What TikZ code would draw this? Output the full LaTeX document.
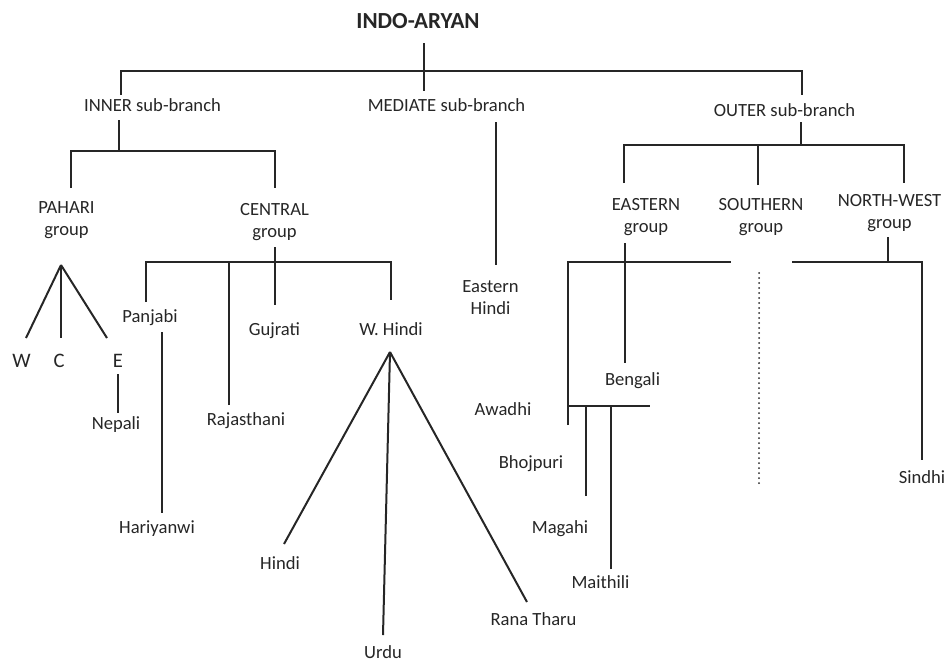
\documentclass[tikz,border=0pt]{standalone}
\usepackage{fontspec}
\setmainfont{Carlito}
\usepackage{tikz}

\begin{document}
\begin{tikzpicture}[
	x=0.5pt, y=-0.5pt,
	langnode/.style={font=\fontsize{9.3}{11}\selectfont, text=black!85, inner sep=0pt, anchor=base},
	groupnode/.style={langnode, align=center, anchor=center},
	letternode/.style={langnode, font=\fontsize{10.3}{12}\selectfont},
	branch/.style={draw=black!85, line width=1pt},
	]
	\useasboundingbox (0,0) rectangle (947,660);
	%Nodes
	\node[langnode, font=\fontsize{11.5}{13}\selectfont\bfseries] (root) at (418,28) {INDO-ARYAN};
	\node[langnode]   (inner)      at (152.5,111) {INNER sub-branch};
	\node[langnode]   (mediate)    at (446.5,111) {MEDIATE sub-branch};
	\node[langnode]   (outer)      at (784.5,116) {OUTER sub-branch};
	\node[groupnode]  (pahari)     at (66.5,220)  {PAHARI\\group};
	\node[groupnode]  (central)    at (274.5,222) {CENTRAL\\group};
	\node[groupnode]  (eastern)    at (646,217)   {EASTERN\\group};
	\node[groupnode]  (southern)   at (761,217)   {SOUTHERN\\group};
	\node[groupnode]  (northwest)  at (889.5,213) {NORTH-WEST\\group};
	\node[groupnode]  (easthindi)  at (490.5,298) {Eastern\\Hindi};
	\node[letternode] (w)          at (21.5,367)  {W};
	\node[letternode] (c)          at (59,367)    {C};
	\node[letternode] (e)          at (118,367)   {E};
	\node[langnode]   (nepali)     at (116,429)   {Nepali};
	\node[langnode]   (panjabi)    at (150,322)   {Panjabi};
	\node[langnode]   (gujrati)    at (274.5,335) {Gujrati};
	\node[langnode]   (whindi)     at (391,335)   {W. Hindi};
	\node[langnode]   (rajasthani) at (246,425)   {Rajasthani};
	\node[langnode]   (hariyanwi)  at (157,533)   {Hariyanwi};
	\node[langnode]   (hindi)      at (280,569)   {Hindi};
	\node[langnode]   (urdu)       at (383,658)   {Urdu};
	\node[langnode]   (ranatharu)  at (533.5,625) {Rana Tharu};
	\node[langnode]   (bengali)    at (632.5,385) {Bengali};
	\node[langnode]   (awadhi)     at (503,415)   {Awadhi};
	\node[langnode]   (bhojpuri)   at (531,468)   {Bhojpuri};
	\node[langnode]   (magahi)     at (560,533)   {Magahi};
	\node[langnode]   (maithili)   at (600.5,588) {Maithili};
	\node[langnode]   (sindhi)     at (922,483)   {Sindhi};
	
	%Line ends
	\coordinate (root-s)      at (424,43);
	\coordinate (root-j)      at (424,71);
	\coordinate (mediate-n)   at (424,91);
	\coordinate (inner-n)     at (121,95);
	\coordinate (outer-n)     at (802,95);
	\coordinate (inner-s)     at (119,120);
	\coordinate (inner-j)     at (119,151);
	\coordinate (pahari-n)    at (71,188);
	\coordinate (central-n)   at (275,188);
	\coordinate (pahari-s)    at (61,265);
	\coordinate (w-n)         at (26,338);
	\coordinate (c-n)         at (61,338);
	\coordinate (e-n)         at (107,338);
	\coordinate (e-s)         at (118,374);
	\coordinate (nepali-n)    at (118,413);
	\coordinate (central-s)   at (275,247);
	\coordinate (central-j)   at (275,262);
	\coordinate (gujrati-n)   at (275,305);
	\coordinate (panjabi-n)   at (146,302);
	\coordinate (rajasthani-n) at (229,405);
	\coordinate (whindi-n)    at (391,300);
	\coordinate (panjabi-s)   at (162,332);
	\coordinate (hariyanwi-n) at (162,513);
	\coordinate (whindi-s)    at (390,352);
	\coordinate (hindi-n)     at (284,544);
	\coordinate (urdu-n)      at (383,635);
	\coordinate (ranatharu-n) at (527,602);
	\coordinate (mediate-s)   at (496,122);
	\coordinate (easthindi-n) at (496,265);
	\coordinate (outer-s)     at (801,122);
	\coordinate (outer-j)     at (801,145);
	\coordinate (eastern-n)   at (624,183);
	\coordinate (southern-n)  at (758,185);
	\coordinate (northwest-n) at (904,183);
	\coordinate (eastern-s)   at (625,243);
	\coordinate (bengali-n)   at (625,363);
	\coordinate (awadhi-n)    at (568,425);
	\coordinate (eastern-e)   at (731,262);
	\coordinate (bihari-j)    at (568,406);
	\coordinate (bihari-e)    at (650,406);
	\coordinate (magahi-n)    at (586,496);
	\coordinate (maithili-n)  at (611,569);
	\coordinate (southern-s)  at (759,273);
	\coordinate (dots-s)      at (759,485);
	\coordinate (northwest-s) at (888,237);
	\coordinate (northwest-j) at (888,262);
	\coordinate (sindhi-w)    at (792,262);
	\coordinate (sindhi-n)    at (922,460);
	
	%Lines
	\draw[branch] (root-s) -- (mediate-n);
	\draw[branch] (inner-n) |- (root-j) -| (outer-n);
	\draw[branch] (inner-s) -- (inner-j);
	\draw[branch] (pahari-n) |- (inner-j) -| (central-n);
	\foreach \leaf in {w-n, c-n, e-n}
		\draw[branch] (pahari-s) -- (\leaf);
	\draw[branch] (e-s) -- (nepali-n);
	\draw[branch] (central-s) -- (gujrati-n);
	\draw[branch] (panjabi-n) |- (central-j) -| (whindi-n);
	\draw[branch] (rajasthani-n) -- (rajasthani-n |- central-j);
	\draw[branch] (panjabi-s) -- (hariyanwi-n);
	\foreach \leaf in {hindi-n, urdu-n, ranatharu-n}
		\draw[branch] (whindi-s) -- (\leaf);
	\draw[branch] (mediate-s) -- (easthindi-n);
	\draw[branch] (outer-s) -- (outer-j);
	\draw[branch] (eastern-n) |- (outer-j) -| (northwest-n);
	\draw[branch] (southern-n) -- (southern-n |- outer-j);
	\draw[branch] (eastern-s) -- (bengali-n);
	\draw[branch] (awadhi-n) |- (eastern-e);
	\draw[branch] (bihari-j) -- (bihari-e);
	\draw[branch] (magahi-n) -- (magahi-n |- bihari-e);
	\draw[branch] (maithili-n) -- (maithili-n |- bihari-e);
	\draw[branch, line cap=round, dash pattern=on 0pt off 2.5pt] (southern-s) -- (dots-s);
	\draw[branch] (northwest-s) -- (northwest-j);
	\draw[branch] (sindhi-w) -| (sindhi-n);
\end{tikzpicture}
\end{document}
